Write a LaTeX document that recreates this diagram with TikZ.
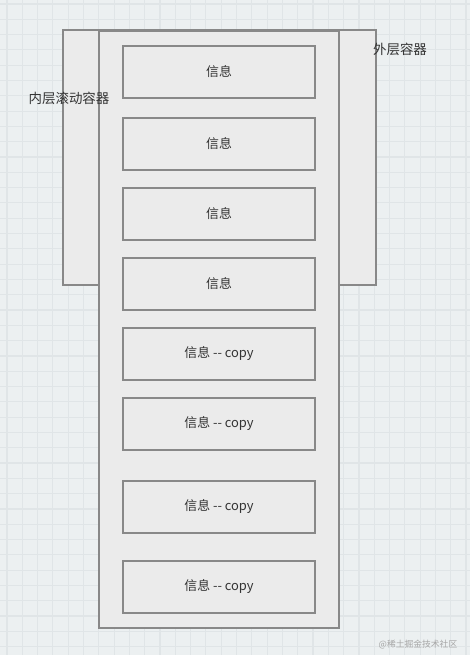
\documentclass[tikz,border=0pt]{standalone}
\usepackage{fontspec}
\setmainfont{Noto Sans CJK SC}
\usepackage{xcolor}
\usepackage{tikz}
\usetikzlibrary{positioning}

\definecolor{canvasbg}{RGB}{236,240,241}
\definecolor{gridcol}{RGB}{224,229,231}
\definecolor{boxfill}{RGB}{235,235,235}
\definecolor{boxline}{RGB}{136,136,136}
\definecolor{textcol}{RGB}{51,51,51}

\begin{document}
\begin{tikzpicture}[
    x=0.03cm, y=-0.03cm,
    container/.style = {
        rectangle,
        draw=boxline,
        line width=1.2pt,
        fill=boxfill,
        inner sep=0pt
    },
    info box/.style = {
        container,
        minimum width=5.76cm,
        minimum height=1.56cm,
        font=\fontsize{11}{13}\selectfont,
        text=textcol
    },
    label text/.style = {
        font=\fontsize{11.5}{13}\selectfont,
        text=textcol,
        inner sep=0pt
    }
]

% canvas
\fill[canvasbg] (0,0) rectangle (470,655);
\useasboundingbox (0,0) rectangle (470,655);
\begin{scope}[shift={(7,4)}]
    \draw[gridcol, line width=1pt] (-7,-4) grid[step=0.459cm] (463,651);
\end{scope}

% containers
\node [container, minimum width=9.39cm, minimum height=7.65cm] (outer) at (219.5,157.5) {};
\node [container, minimum width=7.2cm, minimum height=17.91cm] (inner) at (219,329.5) {};

% list items
\node [info box] (info1) at (219,72) {信息};
\node [info box] (info2) at (219,144) {信息};
\node [info box] (info3) at (219,214) {信息};
\node [info box] (info4) at (219,284) {信息};
\node [info box] (info5) at (219,354) {信息 {-}{-} copy};
\node [info box] (info6) at (219,424) {信息 {-}{-} copy};
\node [info box] (info7) at (219,507) {信息 {-}{-} copy};
\node [info box] (info8) at (219,587) {信息 {-}{-} copy};

% labels
\node [label text] (outerlabel) at (400,49) {外层容器};
\node [label text] (innerlabel) at (69,98) {内层滚动容器};
\node [font=\fontsize{7.5}{9}\selectfont, text=gray!70, inner sep=0pt] (mark) at (418,645) {@稀土掘金技术社区};

\end{tikzpicture}
\end{document}
